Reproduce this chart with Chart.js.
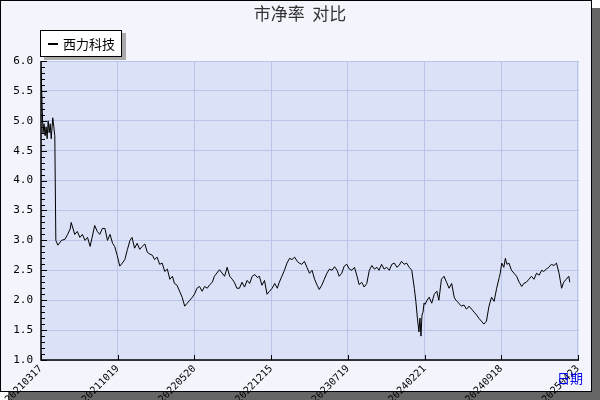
<!DOCTYPE html>
<html><head><meta charset="utf-8">
<script src="https://cdn.jsdelivr.net/npm/chart.js@4/dist/chart.umd.min.js"></script>
<style>html,body{margin:0;padding:0;background:#fff}#c{display:block}</style>
</head><body><canvas id="c" width="600" height="400"></canvas>
<script>
const tickLabels=['20210317','20211019','20220520','20221215','20230719','20240221','20240918','20250423'];
const days=[0,2,4,6,8,10,12,14,16,18,20,23,25,27,29,33,40,47,52,57,59,66,71,76,81,86,91,96,100,105,110,115,120,125,130,135,140,144,149,154,159,164,169,174,178,183,188,193,198,203,208,213,218,222,227,232,237,242,247,252,257,261,266,271,276,281,286,291,296,300,305,310,315,320,325,330,335,339,349,359,364,369,374,378,383,388,393,398,403,408,413,418,423,427,432,437,442,447,452,457,462,466,471,476,481,486,491,496,501,505,510,515,520,525,530,535,540,544,549,554,559,564,569,574,579,583,588,593,598,603,608,613,618,622,627,632,637,642,647,652,657,661,666,671,676,681,686,691,696,700,705,710,715,720,725,730,733,736,739,741,743,745,747,749,751,755,759,764,769,774,778,783,788,793,798,803,808,811,814,817,822,827,832,837,842,847,852,856,861,866,871,876,881,886,891,896,898,901,905,908,911,915,920,925,930,935,940,944,949,954,959,964,969,974,979,983,988,993,998,1003,1008,1013,1018,1022,1027,1032,1034,1036,1039,1042,1046,1050];
const pbValues=[5.9,5.3,4.8,4.95,4.75,4.9,4.7,5.0,4.8,4.95,4.7,5.05,4.9,4.75,3.0,2.92,3.0,3.02,3.1,3.19,3.3,3.1,3.15,3.05,3.1,3.0,3.05,2.9,3.05,3.25,3.15,3.1,3.2,3.2,3.0,3.1,2.95,2.9,2.75,2.57,2.62,2.68,2.85,3.0,3.05,2.87,2.95,2.85,2.9,2.94,2.8,2.77,2.75,2.68,2.72,2.6,2.62,2.48,2.52,2.35,2.4,2.28,2.25,2.15,2.05,1.9,1.95,2.0,2.05,2.1,2.2,2.23,2.15,2.23,2.2,2.26,2.3,2.4,2.51,2.4,2.55,2.4,2.35,2.3,2.2,2.2,2.3,2.22,2.33,2.28,2.4,2.43,2.38,2.4,2.25,2.33,2.1,2.15,2.2,2.28,2.2,2.3,2.4,2.5,2.62,2.7,2.68,2.72,2.65,2.62,2.6,2.65,2.55,2.45,2.5,2.35,2.25,2.18,2.25,2.35,2.45,2.52,2.5,2.56,2.5,2.4,2.45,2.57,2.6,2.52,2.5,2.55,2.4,2.26,2.3,2.22,2.28,2.5,2.58,2.52,2.55,2.5,2.6,2.52,2.55,2.5,2.6,2.62,2.55,2.58,2.65,2.6,2.62,2.55,2.5,2.2,1.98,1.7,1.47,1.7,1.4,1.75,1.8,1.95,1.93,2.0,2.05,1.95,2.1,2.15,2.0,2.35,2.4,2.3,2.2,2.28,2.05,2.0,1.98,1.95,1.9,1.92,1.85,1.9,1.85,1.8,1.75,1.7,1.65,1.6,1.65,1.9,2.05,1.98,2.2,2.38,2.45,2.62,2.55,2.7,2.6,2.62,2.5,2.45,2.4,2.3,2.23,2.28,2.3,2.35,2.4,2.35,2.45,2.42,2.5,2.48,2.52,2.55,2.6,2.58,2.62,2.45,2.2,2.3,2.35,2.4,2.3];
const frame={id:'frame',beforeDraw(c){const x=c.ctx;x.save();x.fillStyle='#fff';x.fillRect(0,0,600,400);x.fillStyle='#666';x.fillRect(8,8,592,392);x.fillStyle='#f3f4fc';x.fillRect(0,0,592,392);x.strokeStyle='#000';x.lineWidth=1;x.strokeRect(0.5,0.5,591,391);
const a=c.chartArea;x.fillStyle='#dbe1f7';x.fillRect(a.left,a.top,a.right-a.left,a.bottom-a.top);x.restore();},
afterDraw(c){const x=c.ctx,a=c.chartArea;x.save();x.strokeStyle='#000';x.lineWidth=1.5;x.beginPath();x.moveTo(a.left,a.top);x.lineTo(a.left,a.bottom);x.lineTo(a.right,a.bottom);x.stroke();
x.lineWidth=1;for(let v=1;v<=6.001;v+=0.1){const y=Math.round(c.scales.y.getPixelForValue(v))+0.5;const big=Math.abs(v*2-Math.round(v*2))<0.01;x.beginPath();x.moveTo(a.left,y);x.lineTo(a.left+(big?6:4),y);x.stroke();}
for(let i=0;i<tickLabels.length;i++){const px=Math.round(c.scales.x.getPixelForValue(i*150))+0.5;x.beginPath();x.moveTo(px,a.bottom);x.lineTo(px,a.bottom-5);x.stroke();}
x.fillStyle='#aaa';x.fillRect(44,33,82,27);x.fillStyle='#fff';x.fillRect(40,30,82,27);x.strokeStyle='#000';x.strokeRect(40.5,30.5,81,26);x.fillStyle='#000';x.fillRect(48,43,10,2);x.font='13px "Noto Sans CJK SC"';x.textBaseline='middle';x.fillText('西力科技',63,44);
x.font='17px "Noto Sans CJK SC"';x.textAlign='center';x.fillStyle='#333';x.fillText('市净率  对比',300,14);
x.font='13px "Noto Sans CJK SC"';x.fillStyle='#0000ee';x.textAlign='left';x.fillText('日期',557,378);x.restore();}};
new Chart(document.getElementById('c'),{type:'line',data:{datasets:[{data:days.map((d,i)=>({x:d,y:pbValues[i]})),borderColor:'#000',borderWidth:1,pointRadius:0,tension:0}]},
options:{responsive:false,animation:false,layout:{padding:{top:61,right:21,left:0,bottom:0}},plugins:{legend:{display:false},tooltip:{enabled:false}},
scales:{x:{type:'linear',min:0,max:1052,afterFit(s){s.height=40;},afterBuildTicks(s){s.ticks=tickLabels.map((_,i)=>({value:i*150}));},grid:{color:'#b8c4e8',drawTicks:false},border:{display:false},ticks:{autoSkip:false,minRotation:45,maxRotation:45,padding:3,color:'#000',font:{family:'DejaVu Sans Mono',size:10},callback:(v)=>tickLabels[Math.round(v/150)]}},
y:{min:1,max:6,afterFit(s){s.width=41;},grid:{color:'#b8c4e8',drawTicks:false},border:{display:false},ticks:{stepSize:0.5,padding:8,color:'#000',font:{family:'DejaVu Sans Mono',size:11},callback:v=>v.toFixed(1)}}}},plugins:[frame]});
</script></body></html>
